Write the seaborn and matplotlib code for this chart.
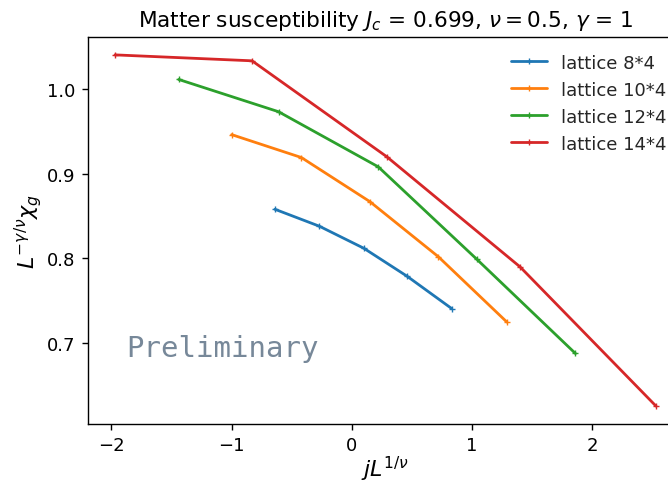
import matplotlib
matplotlib.use("Agg")
import matplotlib.pyplot as plt
import seaborn as sns
import pandas as pd

sns.set_theme(style="ticks")
plt.rcParams["font.family"] = ["DejaVu Sans"]

lattices = ["lattice 8*4", "lattice 10*4", "lattice 12*4", "lattice 14*4"]
colors = ["#1f77b4", "#ff7f0e", "#2ca02c", "#d62728"]

x_8 = [-0.64, -0.27, 0.10, 0.46, 0.83]
y_8 = [0.858, 0.838, 0.812, 0.779, 0.741]
x_10 = [-1.00, -0.42, 0.15, 0.72, 1.29]
y_10 = [0.946, 0.919, 0.867, 0.802, 0.725]
x_12 = [-1.44, -0.61, 0.22, 1.04, 1.86]
y_12 = [1.011, 0.973, 0.908, 0.799, 0.688]
x_14 = [-1.97, -0.83, 0.29, 1.40, 2.53]
y_14 = [1.040, 1.033, 0.920, 0.790, 0.626]

xs = [x_8, x_10, x_12, x_14]
ys = [y_8, y_10, y_12, y_14]

fig = plt.figure(figsize=(6.68, 4.85), dpi=100)
ax = fig.add_axes([0.1317, 0.1245, 0.8908, 0.7965])

for name, c, xv, yv in zip(lattices, colors, xs, ys):
    df = pd.DataFrame({"x": xv, "y": yv})
    sns.lineplot(data=df, x="x", y="y", ax=ax, color=c, label=name,
                 sort=False, linewidth=2, marker="+", markersize=4,
                 markeredgewidth=1, markeredgecolor=c)

for side in ["top", "right", "left", "bottom"]:
    ax.spines[side].set_visible(True)
    ax.spines[side].set_color("black")
    ax.spines[side].set_linewidth(1.0)

ax.set_xticks([-2, -1, 0, 1, 2])
ax.set_yticks([0.7, 0.8, 0.9, 1.0])
ax.tick_params(labelsize=13, length=4.5, width=1.0, pad=4.5,
               color="black", labelcolor="black")
ax.set_xlabel(r"$jL^{1/\nu}$", fontsize=16, color="black", labelpad=0)
ax.set_ylabel(r"$L^{-\gamma/\nu}\chi_g$", fontsize=16, color="black", labelpad=2)
ax.set_title(r"Matter susceptibility $J_c$ = 0.699, $\nu = 0.5$, $\gamma$ = 1",
             fontsize=15.6, color="black", pad=7.8)

ax.text(-1.88, 0.694, "Preliminary", family="DejaVu Sans Mono", fontsize=21,
        color="#778899", va="center", ha="left")

leg = ax.legend(loc="upper right", frameon=False, fontsize=13)

fig.savefig("out.png", dpi=100, facecolor="white")
